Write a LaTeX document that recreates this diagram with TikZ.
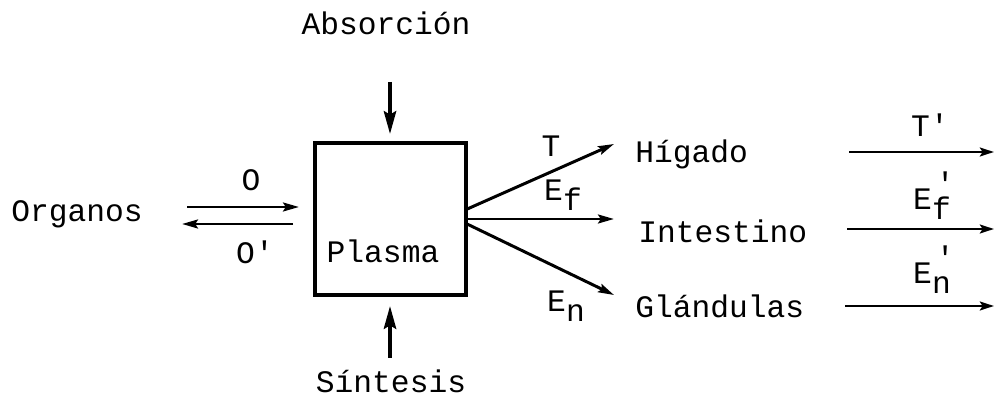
\documentclass[tikz,border=0pt]{standalone}
\usepackage{fontspec}
\newfontfamily\tw{Liberation Mono}
\usetikzlibrary{arrows.meta}
\newcommand{\subp}[1]{\raisebox{-0.6ex}{#1}}
\newcommand{\subpp}[1]{\raisebox{-0.6ex}{\makebox[0pt][l]{\hspace{0.12em}\raisebox{1.5ex}{'}}#1}}
\begin{document}
\begin{tikzpicture}[x=0.02cm,y=-0.02cm,
  lbl/.style={inner sep=0pt,font=\tw\fontsize{17.8}{20}\selectfont},
  heavy/.style={line width=2.1pt,-{Stealth[length=13pt,width=7pt,inset=2pt]}},
  flow/.style={line width=1.7pt,-{Stealth[length=9pt,width=5pt,inset=1.5pt]}},
  thin flow/.style={line width=1.5pt,-{Stealth[length=8pt,width=5pt,inset=1.5pt]}}]
\useasboundingbox (0,0) rectangle (994,398);
% box
\node[draw,line width=1.8pt,minimum width=151*0.02cm,minimum height=152*0.02cm,inner sep=0pt] (box) at (390.5,219) {};
\node[lbl,anchor=base] (plasma) at (383,263) {Plasma};
% texts
\node[lbl,anchor=base] (abs) at (386,35) {Absorción};
\node[lbl,anchor=base] (sin) at (391,393) {Síntesis};
\node[lbl,anchor=base west] (org) at (11,222) {Organos};
\node[lbl,anchor=base west] (hig) at (635,163) {Hígado};
\node[lbl,anchor=base west] (int) at (638,243) {Intestino};
\node[lbl,anchor=base west] (gla) at (635,318) {Glándulas};
% labels
\node[lbl] (lO) at (251,180) {O};
\node[lbl] (lOp) at (255,252) {O'};
\node[lbl] (lT) at (551,146) {T};
\node[lbl] (lEf) at (563,195) {E\subp{f}};
\node[lbl] (lEn) at (566,306) {E\subp{n}};
\node[lbl] (lTp) at (930,125) {T'};
\node[lbl] (lEfp) at (932,196) {E\subpp{f}};
\node[lbl] (lEnp) at (932,270) {E\subpp{n}};
% coordinates
\coordinate (absA) at (390,82);
\coordinate (absB) at (390,134);
\coordinate (sinA) at (390,358);
\coordinate (sinB) at (390,306);
\coordinate (oA) at (187,207);
\coordinate (oB) at (299,207);
\coordinate (opA) at (293,224);
\coordinate (opB) at (182,224);
\coordinate (fT) at (465,210);
\coordinate (fE) at (465,219);
\coordinate (fN) at (465,223);
\coordinate (hT) at (614,144);
\coordinate (iE) at (614,219);
\coordinate (gN) at (614,295);
\coordinate (r1a) at (849,152);
\coordinate (r1b) at (994,152);
\coordinate (r2a) at (847,229);
\coordinate (r2b) at (994,229);
\coordinate (r3a) at (845,306);
\coordinate (r3b) at (994,306);
% arrows
\draw[heavy] (absA) -- (absB);
\draw[heavy] (sinA) -- (sinB);
\draw[flow] (oA) -- (oB);
\draw[flow] (opA) -- (opB);
\draw[flow] (fT) -- (hT);
\draw[flow] (fE) -- (iE);
\draw[flow] (fN) -- (gN);
\draw[thin flow] (r1a) -- (r1b);
\draw[thin flow] (r2a) -- (r2b);
\draw[thin flow] (r3a) -- (r3b);
\end{tikzpicture}
\end{document}
